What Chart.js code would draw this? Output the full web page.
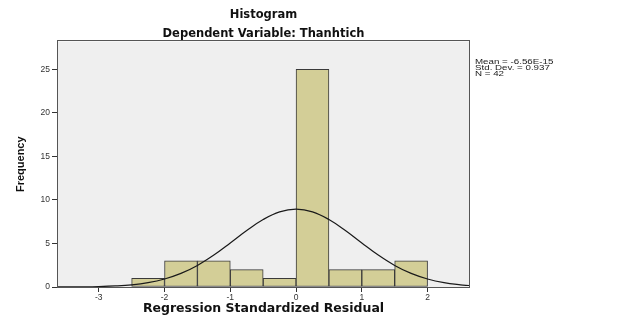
<!DOCTYPE html>
<html>
<head>
<meta charset="utf-8">
<script src="https://cdn.jsdelivr.net/npm/chart.js@4.4.1/dist/chart.umd.min.js"></script>
<style>
  html, body { margin: 0; padding: 0; background: #fff; }
  #wrap { width: 626px; height: 325px; }
</style>
</head>
<body>
<div id="wrap"><canvas id="histograma"></canvas></div>
<script>
// residual bins (centre of each 0.5-wide bin) and counts
const binCenters = [-2.25, -1.75, -1.25, -0.75, -0.25, 0.25, 0.75, 1.25, 1.75];
const frequencies = [1, 3, 3, 2, 1, 25, 2, 2, 3];

// normal curve
const curveX = [-3.62, -3.5, -3.25, -3, -2.75, -2.5, -2.25, -2, -1.75, -1.5, -1.25, -1, -0.75, -0.5, -0.25, 0,
  0.25, 0.5, 0.75, 1, 1.25, 1.5, 1.75, 2, 2.25, 2.5, 2.63];
const curveY = [0.005, 0.01, 0.02, 0.05, 0.12, 0.25, 0.5, 0.92, 1.56, 2.48, 3.67, 5.06, 6.49, 7.75, 8.63, 8.94,
  8.63, 7.75, 6.49, 5.06, 3.67, 2.48, 1.56, 0.92, 0.5, 0.25, 0.17];

const xTicks = [-3, -2, -1, 0, 1, 2];
const yTicks = [0, 5, 10, 15, 20, 25];
const stats = ['Mean = -6.56E-15', 'Std. Dev. = 0.937', 'N = 42'];

const fuente = 'Liberation Sans, Arial, sans-serif';
const fuenteAncha = 'DejaVu Sans, Verdana, sans-serif';

const fondoPlot = {
  id: 'fondoPlot',
  beforeDraw(chart) {
    const a = chart.chartArea, c = chart.ctx;
    c.save();
    c.fillStyle = '#efefef';
    c.fillRect(a.left, a.top, a.right - a.left, a.bottom - a.top);
    c.restore();
  },
  afterDraw(chart) {
    const a = chart.chartArea, c = chart.ctx;
    c.save();
    c.strokeStyle = '#555';
    c.lineWidth = 1;
    c.strokeRect(Math.round(a.left) - 0.5, Math.round(a.top) - 0.5, Math.round(a.right - a.left) + 1, Math.round(a.bottom - a.top) + 1);
    // stats box text, a bit stretched sideways
    c.fillStyle = '#222';
    c.font = '7.5px ' + fuente;
    c.textBaseline = 'middle';
    c.translate(a.right + 6, 0);
    c.scale(1.3, 1);
    stats.forEach((t, i) => c.fillText(t, 0, 61.5 + i * 6));
    c.restore();
  }
};

const datosBarras = binCenters.map((x, i) => ({ x: x, y: frequencies[i] }));
const datosCurva = curveX.map((x, i) => ({ x: x, y: curveY[i] }));

new Chart(document.getElementById('histograma').getContext('2d'), {
  type: 'bar',
  data: {
    datasets: [{
      type: 'line',
      data: datosCurva,
      borderColor: '#1a1a1a',
      borderWidth: 1.2,
      pointRadius: 0,
      tension: 0.4,
      fill: false,
      order: 0
    }, {
      type: 'bar',
      data: datosBarras,
      backgroundColor: '#d3ce97',
      borderColor: '#3a3a3a',
      borderWidth: 1,
      borderSkipped: false,
      barPercentage: 1,
      categoryPercentage: 1,
      order: 1
    }]
  },
  options: {
    responsive: true,
    maintainAspectRatio: false,
    animation: false,
    layout: { padding: { top: 8, right: 157, bottom: 6, left: 0 } },
    plugins: {
      legend: { display: false },
      tooltip: { enabled: false },
      title: {
        display: true,
        text: 'Histogram',
        fullSize: false,
        color: '#111',
        font: { family: fuenteAncha, size: 11.5, weight: 'bold', lineHeight: 1.15 },
        padding: { top: 0, bottom: 6 }
      },
      subtitle: {
        display: true,
        text: 'Dependent Variable: Thanhtich',
        fullSize: false,
        color: '#111',
        font: { family: fuenteAncha, size: 11.5, weight: 'bold', lineHeight: 1.15 },
        padding: { top: 0, bottom: 1 }
      }
    },
    scales: {
      x: {
        type: 'linear',
        min: -3.62,
        max: 2.63,
        offset: false,
        afterBuildTicks: s => { s.ticks = xTicks.map(v => ({ value: v })); },
        afterFit: s => { s.height = 32; },
        grid: { offset: false, drawOnChartArea: false, drawTicks: true, tickLength: 5, color: '#333' },
        border: { display: false },
        ticks: { color: '#333', padding: 1, font: { family: fuente, size: 8.5 } },
        title: {
          display: true,
          text: 'Regression Standardized Residual',
          color: '#111',
          font: { family: fuenteAncha, size: 12.5, weight: 'bold', lineHeight: 1.15 },
          padding: { top: 0, bottom: 3 }
        }
      },
      y: {
        min: 0,
        max: 28.2,
        afterBuildTicks: s => { s.ticks = yTicks.map(v => ({ value: v })); },
        afterFit: s => { s.width = 58; },
        grid: { drawOnChartArea: false, drawTicks: true, tickLength: 6, color: '#333' },
        border: { display: false },
        ticks: { color: '#333', padding: 2, font: { family: fuente, size: 8.5 } },
        title: {
          display: true,
          text: 'Frequency',
          color: '#111',
          font: { family: fuente, size: 11, weight: 'bold', lineHeight: 1.15 },
          padding: { top: 15, bottom: 0 }
        }
      }
    }
  },
  plugins: [fondoPlot]
});
</script>
</body>
</html>
